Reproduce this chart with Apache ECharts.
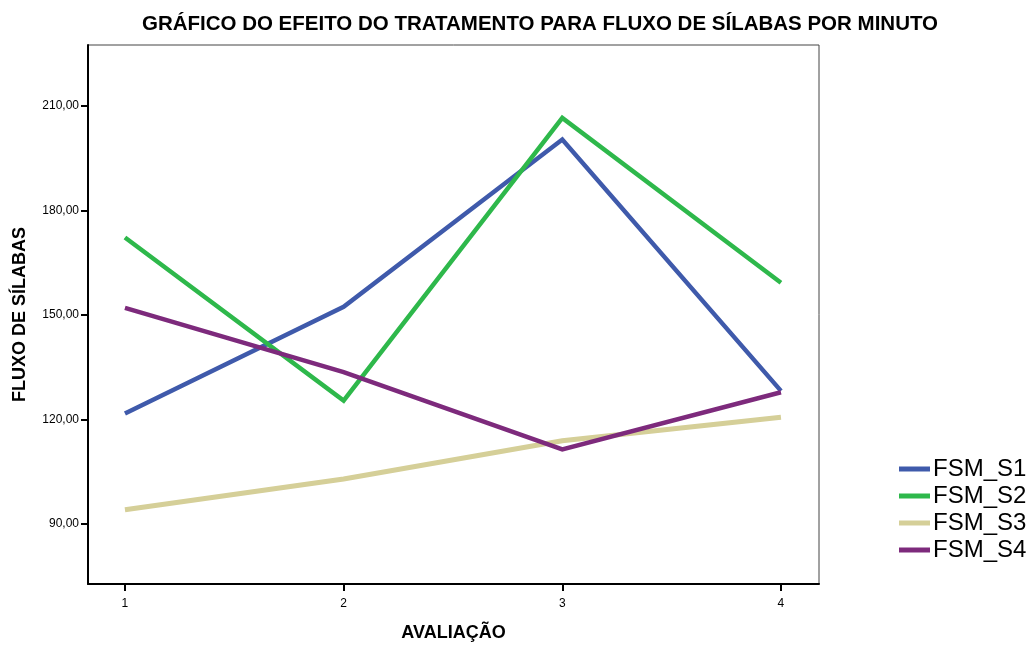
<!DOCTYPE html>
<html><head><meta charset="utf-8">
<script src="https://cdn.jsdelivr.net/npm/echarts@6/dist/echarts.min.js"></script>
<style>html,body{margin:0;padding:0;background:#fff}#c{width:1032px;height:646px}</style>
</head><body><div id="c"></div>
<script>
const categories = [1, 2, 3, 4];
const seriesNames = ['FSM_S1', 'FSM_S2', 'FSM_S3', 'FSM_S4'];
const FSM_S1 = [121.7, 152.3, 200.3, 128.2];
const FSM_S2 = [172.2, 125.4, 206.5, 159.2];
const FSM_S3 = [94.1, 102.9, 113.9, 120.6];
const FSM_S4 = [152.0, 133.6, 111.4, 127.8];
const yTicks = [90, 120, 150, 180, 210];
const xTicks = [1, 2, 3, 4];
const colors = ['#3f5aab', '#2eb84b', '#d5cf98', '#7d2a7c'];
const values = [FSM_S1, FSM_S2, FSM_S3, FSM_S4];
const font = '"Liberation Sans", Arial, sans-serif';

const chart = echarts.init(document.getElementById('c'), null, {renderer: 'canvas'});
chart.setOption({
  animation: false,
  backgroundColor: '#fff',
  title: {
    text: 'GRÁFICO DO EFEITO DO TRATAMENTO PARA FLUXO DE SÍLABAS POR MINUTO',
    left: 535, top: 9, textAlign: 'center',
    textStyle: {fontFamily: font, fontWeight: 'bold', fontSize: 20.5, color: '#000'}
  },
  grid: {left: 88, top: 45, right: 213, bottom: 62, show: true, borderColor: '#444', borderWidth: 1,
    backgroundColor: 'transparent', containLabel: false, outerBoundsMode: 'none'},
  legend: {
    orient: 'vertical', left: 894, top: 452, itemGap: 3,
    itemWidth: 31, itemHeight: 5, icon: 'rect',
    textStyle: {fontFamily: font, fontSize: 24, color: '#000', padding: [0, 0, 0, -2]},
    data: seriesNames
  },
  xAxis: {
    type: 'value', min: 0.831, max: 4.174,
    name: 'AVALIAÇÃO', nameLocation: 'middle', nameGap: 40,
    nameTextStyle: {fontFamily: font, fontWeight: 'bold', fontSize: 18, color: '#000'},
    axisLine: {show: true, lineStyle: {color: '#000', width: 2}},
    axisTick: {show: true, inside: false, length: 7, lineStyle: {color: '#000', width: 2}, customValues: xTicks},
    axisLabel: {fontFamily: font, fontSize: 12, color: '#000', margin: 14, customValues: xTicks, formatter: v => String(v)},
    splitLine: {show: false}
  },
  yAxis: {
    type: 'value', min: 72.8, max: 227.4,
    name: 'FLUXO DE SÍLABAS', nameLocation: 'middle', nameGap: 59, nameRotate: 90,
    nameTextStyle: {fontFamily: font, fontWeight: 'bold', fontSize: 18, color: '#000'},
    axisLine: {show: true, lineStyle: {color: '#000', width: 2}},
    axisTick: {show: true, inside: false, length: 7, lineStyle: {color: '#000', width: 2}, customValues: yTicks},
    axisLabel: {fontFamily: font, fontSize: 12, color: '#000', margin: 9, customValues: yTicks,
      formatter: v => v.toFixed(2).replace('.', ',')},
    splitLine: {show: false}
  },
  series: seriesNames.map((n, i) => ({
    name: n, type: 'line', symbol: 'none',
    data: categories.map((c, j) => [c, values[i][j]]),
    lineStyle: {color: colors[i], width: i === 2 ? 5 : 4.5, join: 'miter'},
    itemStyle: {color: colors[i]},
    z: 2 + i
  }))
});
</script></body></html>
